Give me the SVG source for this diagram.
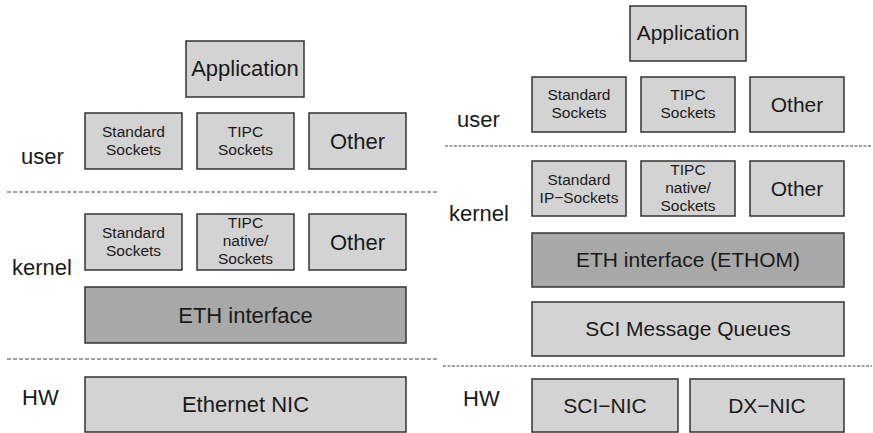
<svg xmlns="http://www.w3.org/2000/svg" width="873" height="433" viewBox="0 0 873 433">
<style>
.b{fill:#d3d3d3;stroke:#333;stroke-width:1.5}
.d{fill:#a8a8a8;stroke:#333;stroke-width:1.5}
text{font-family:"Liberation Sans",Arial,sans-serif;fill:#1a1a1a;text-anchor:middle}
.L{font-size:22px}
.M{font-size:21px}
.S{font-size:15.5px}
.lab{font-size:22px;text-anchor:start}
.dl{stroke:#444;stroke-width:1;stroke-dasharray:4 2;fill:none}
.dr{stroke:#444;stroke-width:1;stroke-dasharray:3 1.5;fill:none}
</style>
<rect width="873" height="433" fill="#fff"/>
<g id="separators">
<line class="dl" x1="7" y1="192" x2="438" y2="192"/>
<line class="dl" x1="7" y1="359" x2="438" y2="359"/>
<line class="dr" x1="445" y1="146" x2="872" y2="146"/>
<line class="dr" x1="443" y1="366" x2="872" y2="366"/>
</g>
<g id="labels-left">
<text class="lab" x="21" y="164">user</text>
<text class="lab" x="12" y="275">kernel</text>
<text class="lab" x="22" y="405">HW</text>
</g>
<g id="labels-right">
<text class="lab" x="457" y="127">user</text>
<text class="lab" x="449" y="221">kernel</text>
<text class="lab" x="463" y="406">HW</text>
</g>
<g id="l-app"><rect class="b" x="186" y="41" width="118" height="56"/><text class="L" x="245" y="76">Application</text></g>
<g id="l-std-user"><rect class="b" x="85" y="113" width="97" height="56"/><text class="S" x="133.5" y="137">Standard</text><text class="S" x="133.5" y="155">Sockets</text></g>
<g id="l-tipc-user"><rect class="b" x="197" y="113" width="97" height="56"/><text class="S" x="245.5" y="137">TIPC</text><text class="S" x="245.5" y="155">Sockets</text></g>
<g id="l-other-user"><rect class="b" x="309" y="113" width="97" height="56"/><text class="L" x="357.5" y="149">Other</text></g>
<g id="l-std-kernel"><rect class="b" x="85" y="214" width="97" height="56"/><text class="S" x="133.5" y="238">Standard</text><text class="S" x="133.5" y="256">Sockets</text></g>
<g id="l-tipc-kernel"><rect class="b" x="197" y="214" width="97" height="56"/><text class="S" x="245.5" y="228">TIPC</text><text class="S" x="245.5" y="246">native/</text><text class="S" x="245.5" y="264">Sockets</text></g>
<g id="l-other-kernel"><rect class="b" x="309" y="214" width="97" height="56"/><text class="L" x="357.5" y="250">Other</text></g>
<g id="l-eth"><rect class="d" x="85" y="287" width="321" height="56"/><text class="L" x="245.5" y="323">ETH interface</text></g>
<g id="l-nic"><rect class="b" x="85" y="377" width="321" height="55"/><text class="L" x="245.5" y="412">Ethernet NIC</text></g>
<g id="r-app"><rect class="b" x="630" y="6" width="116" height="55"/><text class="M" x="688" y="40">Application</text></g>
<g id="r-std-user"><rect class="b" x="532" y="77" width="94" height="55"/><text class="S" x="579" y="100">Standard</text><text class="S" x="579" y="118">Sockets</text></g>
<g id="r-tipc-user"><rect class="b" x="641" y="77" width="94" height="55"/><text class="S" x="688" y="100">TIPC</text><text class="S" x="688" y="118">Sockets</text></g>
<g id="r-other-user"><rect class="b" x="750" y="77" width="94" height="55"/><text class="M" x="797" y="112">Other</text></g>
<g id="r-std-kernel"><rect class="b" x="532" y="161" width="94" height="55"/><text class="S" x="579" y="185">Standard</text><text class="S" x="579" y="203">IP−Sockets</text></g>
<g id="r-tipc-kernel"><rect class="b" x="641" y="161" width="94" height="55"/><text class="S" x="688" y="175">TIPC</text><text class="S" x="688" y="193">native/</text><text class="S" x="688" y="211">Sockets</text></g>
<g id="r-other-kernel"><rect class="b" x="750" y="161" width="94" height="55"/><text class="M" x="797" y="196">Other</text></g>
<g id="r-ethom"><rect class="d" x="532" y="233" width="312" height="54"/><text class="M" x="688" y="267">ETH interface (ETHOM)</text></g>
<g id="r-sciq"><rect class="b" x="532" y="302" width="312" height="54"/><text class="M" x="688" y="336">SCI Message Queues</text></g>
<g id="r-scinic"><rect class="b" x="532" y="379" width="146" height="53"/><text class="M" x="605" y="413">SCI−NIC</text></g>
<g id="r-dxnic"><rect class="b" x="690" y="379" width="154" height="53"/><text class="M" x="767" y="413">DX−NIC</text></g>
</svg>
